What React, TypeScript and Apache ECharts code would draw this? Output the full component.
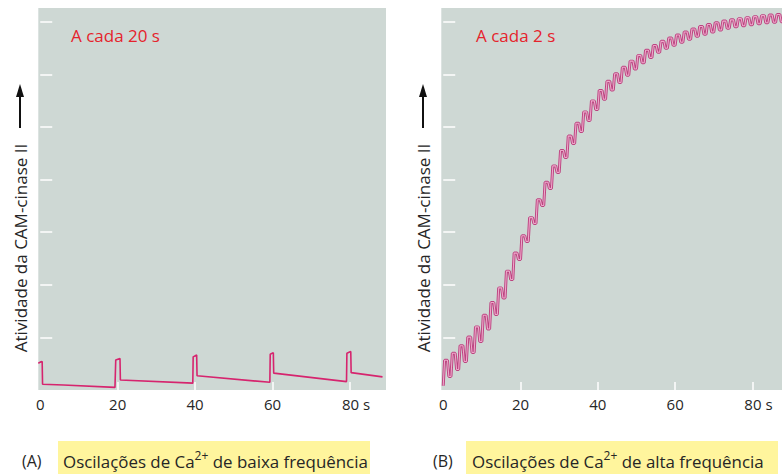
import React, { useEffect, useRef } from "react";
import * as echarts from "echarts";

// ---- data ----
const xTickValues = [20, 40, 60, 80];
const xLabelValues = [0, 20, 40, 60, 80];
const yTickValues = [1, 2, 3, 4, 5, 6, 7];

// (A) low-frequency oscillations: one Ca2+ pulse every 20 s  [time s, activity]
const lowFreqTrace: [number, number][] = [
  [-0.5, 0.51], [0, 0.53], [0.5, 0.54], [0.6, 0.11], [6, 0.095], [19.3, 0.05],
  [19.5, 0.57], [20.6, 0.6], [20.7, 0.19], [39.4, 0.13],
  [39.5, 0.63], [40.4, 0.665], [40.5, 0.27], [59.3, 0.146],
  [59.4, 0.68], [60.2, 0.71], [60.3, 0.32], [79.1, 0.16],
  [79.2, 0.7], [80.2, 0.73], [80.3, 0.33], [88.4, 0.25],
];

// (B) high-frequency oscillations: one pulse every 2 s
// peak reached during each pulse, and the level just before each pulse starts
const pulsePeriod = 2;
const highFreqPeaks = [
  0.565, 0.698, 0.842, 1.006, 1.2, 1.42, 1.662, 1.941, 2.259, 2.603, 2.933, 3.276, 3.618,
  3.949, 4.26, 4.553, 4.827, 5.07, 5.287, 5.496, 5.694, 5.868, 6.011, 6.135, 6.252, 6.361,
  6.459, 6.549, 6.628, 6.693, 6.75, 6.807, 6.864, 6.91, 6.948, 6.981, 7.013, 7.037, 7.06,
  7.079, 7.098, 7.117, 7.13, 7.139,
];
const highFreqTroughs = [
  0.08, 0.257, 0.39, 0.542, 0.713, 0.922, 1.16, 1.435, 1.749, 2.101, 2.481, 2.823, 3.165,
  3.508, 3.831, 4.135, 4.42, 4.686, 4.914, 5.124, 5.333, 5.528, 5.703, 5.846, 5.984, 6.103,
  6.221, 6.321, 6.421, 6.497, 6.554, 6.611, 6.668, 6.725, 6.763, 6.806, 6.844, 6.877, 6.906,
  6.925, 6.944, 6.963, 6.982, 6.991, 7.001,
];

const titleA = "A cada 20 s";
const titleB = "A cada 2 s";
const yTitle = "Atividade da CAM-cinase II";
const captionA = ["Oscilações de Ca", "2+", " de baixa frequência"];
const captionB = ["Oscilações de Ca", "2+", " de alta frequência"];

const FONT = "'Open Sans', 'Noto Sans', sans-serif";
const PANEL = "#CED8D4";
const RED = "#E5232C";
const TEXT = "#262626";

function buildHighTrace(): [number, number][] {
  const pts: [number, number][] = [];
  highFreqPeaks.forEach((p, k) => {
    const t0 = k * pulsePeriod;
    pts.push([t0, highFreqTroughs[k]]);
    pts.push([t0 + 0.35, p]);
    pts.push([t0 + 1.1, p]);
    pts.push([t0 + 1.45, highFreqTroughs[k + 1]]);
  });
  pts.push([highFreqPeaks.length * pulsePeriod, highFreqTroughs[highFreqPeaks.length]]);
  return pts;
}

function xAxis(gridIndex: number, max: number) {
  return {
    type: "value",
    gridIndex,
    min: -0.5,
    max,
    axisLine: { show: false },
    splitLine: { show: false },
    axisTick: {
      show: true,
      inside: true,
      length: 8,
      customValues: xTickValues,
      lineStyle: { color: "#ffffff", width: 1.5 },
    },
    axisLabel: {
      customValues: xLabelValues,
      margin: 6,
      fontSize: 15,
      fontFamily: FONT,
      color: TEXT,
      formatter: (v: number) => (v === 80 ? "{s|80 s}" : String(v)),
      rich: { s: { fontSize: 15, fontFamily: FONT, color: TEXT, padding: [0, 0, 0, 12] } },
    },
  };
}

function yAxis(gridIndex: number) {
  return {
    type: "value",
    gridIndex,
    min: 0,
    max: 7.262,
    axisLine: { show: false },
    splitLine: { show: false },
    axisLabel: { show: false },
    axisTick: {
      show: true,
      inside: true,
      length: 12,
      customValues: yTickValues,
      lineStyle: { color: "#ffffff", width: 1.5 },
    },
  };
}

function yTitleGroup(cx: number) {
  return [
    {
      type: "line",
      shape: { x1: cx, y1: 128, x2: cx, y2: 95 },
      style: { stroke: "#111", lineWidth: 2 },
    },
    {
      type: "polygon",
      shape: { points: [[cx, 84], [cx - 4, 97], [cx + 4, 97]] },
      style: { fill: "#111" },
    },
    {
      type: "text",
      x: cx,
      y: 248,
      rotation: Math.PI / 2,
      style: {
        text: yTitle,
        align: "center",
        verticalAlign: "middle",
        fontSize: 17,
        fontFamily: FONT,
        fill: TEXT,
      },
    },
  ];
}

function caption(letter: string, parts: string[], lx: number, bx: number, tx: number) {
  return [
    { type: "rect", shape: { x: bx, y: 441, width: 312, height: 33 }, style: { fill: "#FFF59D" } },
    {
      type: "text",
      x: lx,
      y: 461,
      style: { text: letter, fontSize: 16, fontFamily: FONT, fill: TEXT, verticalAlign: "middle" },
    },
    {
      type: "text",
      x: tx,
      y: 461,
      style: {
        text: `{n|${parts[0]}}{s|${parts[1]}}{n|${parts[2]}}`,
        verticalAlign: "middle",
        rich: {
          n: { fontSize: 16.9, fontFamily: FONT, fill: TEXT },
          s: { fontSize: 12, fontFamily: FONT, fill: TEXT, padding: [0, 0, 12, 0] },
        },
      },
    },
  ];
}

export default function App() {
  const ref = useRef<HTMLDivElement>(null);
  useEffect(() => {
    if (!ref.current) return;
    const chart = echarts.init(ref.current, undefined, { renderer: "svg" });
    const highTrace = buildHighTrace();
    chart.setOption({
      animation: false,
      backgroundColor: "#ffffff",
      grid: [
        { left: 38.3, top: 8, width: 347.7, height: 382, show: true, backgroundColor: PANEL, borderWidth: 0 },
        { left: 441.3, top: 8, width: 340.7, height: 382, show: true, backgroundColor: PANEL, borderWidth: 0 },
      ],
      xAxis: [xAxis(0, 89.3), xAxis(1, 87.65)],
      yAxis: [yAxis(0), yAxis(1)],
      series: [
        {
          type: "line",
          xAxisIndex: 0,
          yAxisIndex: 0,
          data: lowFreqTrace,
          showSymbol: false,
          lineStyle: { color: "#D6246E", width: 1.6 },
          clip: true,
        },
        {
          type: "line",
          xAxisIndex: 1,
          yAxisIndex: 1,
          data: highTrace,
          showSymbol: false,
          lineStyle: { color: "#BC4480", width: 3 },
          clip: true,
        },
        {
          type: "line",
          xAxisIndex: 1,
          yAxisIndex: 1,
          data: highTrace,
          showSymbol: false,
          lineStyle: { color: "#EDA8CA", width: 1.1 },
          clip: true,
        },
      ],
      graphic: [
        {
          type: "text",
          x: 71,
          y: 35,
          style: { text: titleA, fontSize: 17, fontFamily: FONT, fill: RED, verticalAlign: "middle" },
        },
        {
          type: "text",
          x: 476,
          y: 35,
          style: { text: titleB, fontSize: 17, fontFamily: FONT, fill: RED, verticalAlign: "middle" },
        },
        ...yTitleGroup(20),
        ...yTitleGroup(423),
        ...caption("(A)", captionA, 22, 58, 63),
        ...caption("(B)", captionB, 433, 466, 472),
      ],
    });
    return () => chart.dispose();
  }, []);
  return (
    <div
      ref={ref}
      style={{ position: "fixed", left: 0, top: 0, width: 782, height: 474 }}
    />
  );
}
